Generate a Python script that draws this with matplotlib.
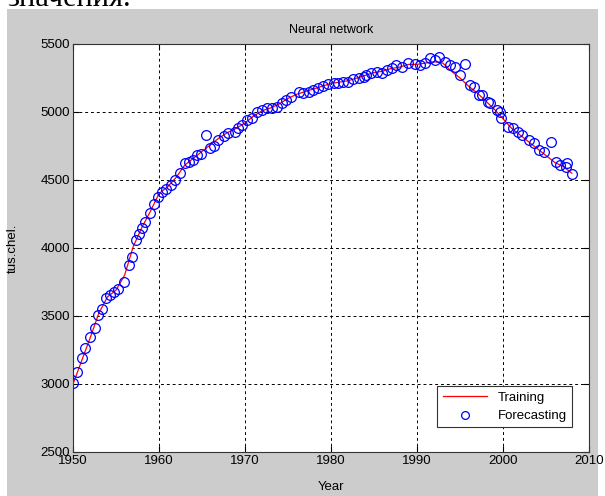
import matplotlib.pyplot as plt
from matplotlib.patches import Rectangle

# training curve (yearly)
train_years = list(range(1950, 2009))
train_vals = [3000, 3170, 3340, 3520, 3640, 3690, 3800, 4010, 4150, 4270,
              4400, 4450, 4520, 4610, 4660, 4710, 4760, 4810, 4850, 4880,
              4920, 4970, 5010, 5030, 5060, 5100, 5130, 5150, 5170, 5190,
              5210, 5220, 5230, 5250, 5270, 5290, 5300, 5320, 5330, 5350,
              5350, 5360, 5370, 5360, 5300, 5250, 5190, 5140, 5080, 5020,
              4950, 4880, 4830, 4780, 4730, 4680, 4630, 4600, 4550]

# forecasting points
fc_years = [1950.0, 1950.5, 1951.0, 1951.4, 1952.0, 1952.5, 1952.9, 1953.4, 1953.8, 1954.3,
            1954.8, 1955.2, 1955.9, 1956.5, 1956.9, 1957.3, 1957.7, 1958.0, 1958.4, 1959.0,
            1959.4, 1959.9, 1960.3, 1960.8, 1961.4, 1961.9, 1962.4, 1963.0, 1963.5, 1964.0,
            1964.4, 1964.9, 1965.5, 1965.9, 1966.4, 1966.9, 1967.5, 1968.0, 1968.8, 1969.2,
            1969.7, 1970.2, 1970.8, 1971.4, 1972.0, 1972.5, 1973.1, 1973.7, 1974.3, 1974.8,
            1975.4, 1976.3, 1976.8, 1977.4, 1977.9, 1978.5, 1979.1, 1979.7, 1980.3, 1980.8,
            1981.4, 1982.0, 1982.6, 1983.2, 1983.8, 1984.1, 1984.7, 1985.3, 1985.9, 1986.5,
            1987.1, 1987.6, 1988.3, 1989.0, 1989.8, 1990.3, 1990.9, 1991.5, 1992.1, 1992.6,
            1993.3, 1993.8, 1994.4, 1995.0, 1995.6, 1996.2, 1996.6, 1997.2, 1997.6, 1998.2,
            1998.5, 1999.3, 1999.7, 1999.8, 2000.6, 2001.2, 2001.8, 2002.2, 2003.0, 2003.6,
            2004.2, 2004.8, 2005.6, 2006.2, 2006.6, 2007.3, 2007.4, 2008.0]
fc_vals = [3005, 3090, 3189, 3268, 3343, 3412, 3505, 3549, 3635, 3654,
           3679, 3696, 3752, 3875, 3936, 4060, 4100, 4145, 4193, 4260,
           4324, 4378, 4414, 4432, 4463, 4500, 4549, 4623, 4634, 4647,
           4684, 4691, 4831, 4733, 4750, 4794, 4824, 4843, 4855, 4880,
           4904, 4941, 4954, 5002, 5015, 5027, 5027, 5039, 5064, 5088,
           5113, 5149, 5137, 5149, 5162, 5174, 5191, 5206, 5211, 5211,
           5223, 5223, 5240, 5248, 5260, 5272, 5285, 5296, 5285, 5309,
           5321, 5346, 5333, 5358, 5353, 5346, 5358, 5395, 5382, 5407,
           5370, 5346, 5333, 5272, 5353, 5199, 5186, 5125, 5125, 5076,
           5064, 5015, 5002, 4954, 4892, 4880, 4855, 4831, 4794, 4770,
           4721, 4708, 4782, 4635, 4610, 4598, 4623, 4544]

plt.rcParams['font.family'] = ['Liberation Sans Narrow', 'Liberation Sans', 'DejaVu Sans']

W, H = 605, 496
fig = plt.figure(figsize=(W / 100, H / 100), dpi=100, facecolor='white')

# caption of the surrounding page, cut off at the top edge
fig.text(7 / W, 1 - 6 / H, "значения.", family=['Liberation Serif', 'DejaVu Serif'],
         fontsize=22, va='baseline', ha='left', zorder=0)
fig.patches.append(Rectangle((7 / W, 0), 591 / W, (H - 9) / H, transform=fig.transFigure,
                             facecolor='#cccccc', edgecolor='none', zorder=1))

ax = fig.add_axes([73 / W, (H - 452) / H, (589 - 73) / W, (452 - 44) / H], zorder=2)
ax.set_facecolor('white')

ax.plot(train_years, train_vals, color='red', lw=0.9, label='Training', zorder=3)
ax.plot(fc_years, fc_vals, 'o', ms=7, mfc='none', mec='blue', mew=0.9,
        label='Forecasting', zorder=4)

ax.set_xlim(1950, 2010)
ax.set_ylim(2500, 5500)
ax.set_xticks(range(1950, 2011, 10))
ax.set_yticks(range(2500, 5501, 500))
ax.grid(True, color='black', linestyle=(0, (3, 3)), lw=0.7)
ax.set_axisbelow(True)
ax.tick_params(direction='in', length=4, labelsize=9.5, colors='black', top=True, right=True,
               labeltop=False, labelright=False, pad=2)
for s in ax.spines.values():
    s.set_color('#333333')
    s.set_linewidth(0.8)

ax.set_title('Neural network', fontsize=9, pad=8)
ax.set_xlabel('Year', fontsize=9.5)
ax.set_ylabel('tus.chel.', fontsize=9.5)
ax.xaxis.set_label_coords(0.5, -(481 - 452) / 408)
ax.yaxis.set_label_coords(-(73 - 19) / 516, 0.5)

leg = ax.legend(loc='lower right', bbox_to_anchor=(579 / W, (H - 434) / H),
                bbox_transform=fig.transFigure, fontsize=9.5, frameon=True, fancybox=False,
                framealpha=1, edgecolor='#333333', handlelength=3.4, borderpad=0.4,
                labelspacing=0.45, numpoints=1, markerscale=0.8)
leg.get_frame().set_linewidth(0.8)

fig.savefig('out.png', dpi=100, facecolor='white')
